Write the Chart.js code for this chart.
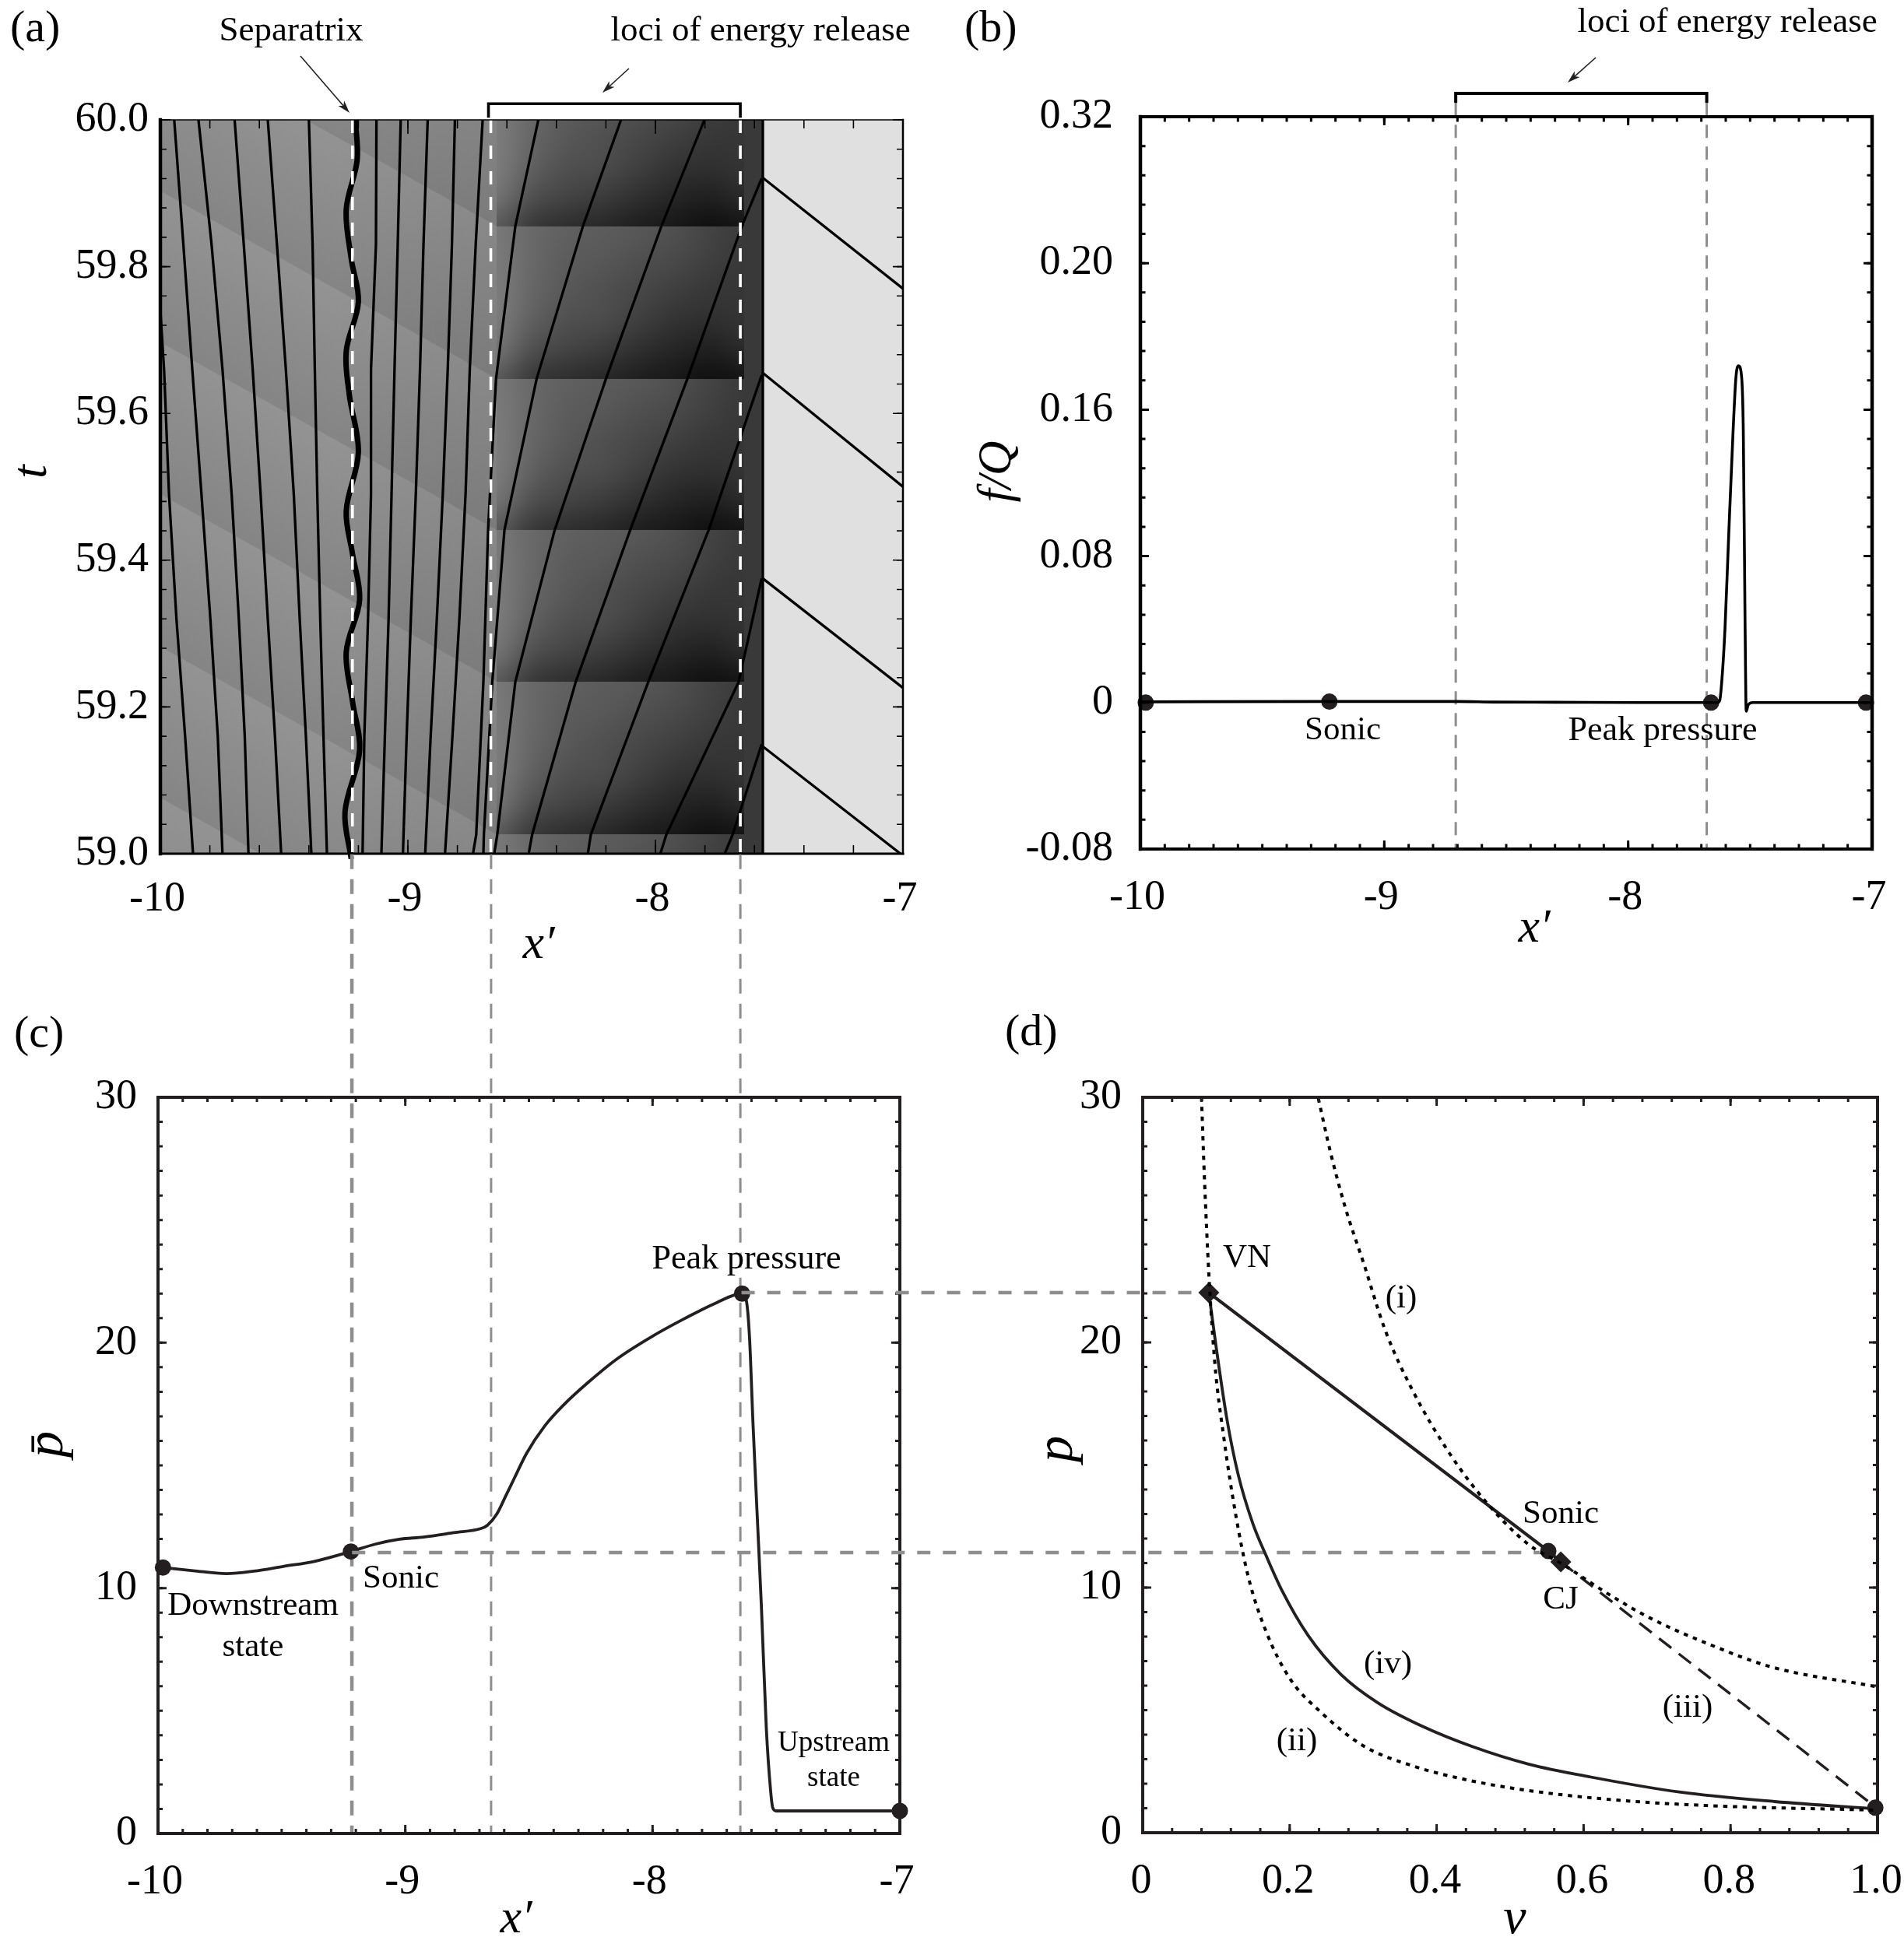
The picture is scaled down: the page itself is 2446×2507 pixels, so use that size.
<!DOCTYPE html>
<html><head><meta charset="utf-8">
<style>html,body{margin:0;padding:0;background:#fff}canvas{position:absolute;left:0;top:0}</style>
<script src="https://cdn.jsdelivr.net/npm/chart.js@4"></script>
</head><body>
<canvas id="pa" width="2446" height="2507"></canvas>
<canvas id="pb" width="2446" height="2507"></canvas>
<canvas id="pc" width="2446" height="2507"></canvas>
<canvas id="pd" width="2446" height="2507"></canvas>
<script>
// ---------- tick labels ----------
const xPrimeTicks=[-10,-9,-8,-7];
const xPrimeLabels=['-10','-9','-8','-7'];
const aTimeTicks=[59,59.2,59.4,59.6,59.8,60];
const aTimeLabels=['59.0','59.2','59.4','59.6','59.8','60.0'];
const bTicks=[-0.08,0,0.08,0.16,0.24,0.32];
const bLabels=['-0.08','0','0.08','0.16','0.20','0.32'];
const pTicks=[0,10,20,30];
const pLabels=['0','10','20','30'];
const vTicks=[0,0.2,0.4,0.6,0.8,1];
const vLabels=['0','0.2','0.4','0.6','0.8','1.0'];

// ---------- panel (a): particle paths ----------
const pathT=[60,59.83,59.66,59.49,59.32,59.16,59];
const pathB=[-9.944,-9.907,-9.871,-9.834,-9.798,-9.768,-9.749];
const pathC=[-9.846,-9.793,-9.749,-9.712,-9.683,-9.659,-9.644];
const pathD=[-9.70,-9.663,-9.627,-9.595,-9.566,-9.537,-9.512];
const pathE=[-9.566,-9.529,-9.493,-9.461,-9.437,-9.412,-9.39];
const pathF=[-9.40,-9.385,-9.376,-9.366,-9.354,-9.341,-9.327];
const pathG=[-9.127,-9.129,-9.149,-9.149,-9.161,-9.176,-9.183];
const pathH=[-9.029,-9.041,-9.054,-9.066,-9.078,-9.093,-9.107];
const pathI=[-8.92,-8.937,-8.951,-8.968,-8.988,-9.005,-9.02];
const pathJ=[-8.81,-8.822,-8.839,-8.859,-8.883,-8.908,-8.93];
const pathK=[-8.698,-8.726,-8.75,-8.767,-8.792,-8.82,-8.85];
const pathAT=[59.74,59.66,59.49,59.32,59.16,59];
const pathA=[-10,-9.985,-9.965,-9.935,-9.90,-9.868];
const rowT=[60,59.855,59.647,59.441,59.234,59.026,59];
const pathL=[-8.473,-8.566,-8.644,-8.676,-8.695,-8.724,-8.737];
const pathM=[-8.139,-8.293,-8.48,-8.61,-8.659,-8.693,-8.695];
const pathN=[-7.802,-7.976,-8.2,-8.407,-8.566,-8.639,-8.651];
const pathOT=[59.92,59.855,59.647,59.441,59.234,59.026,59];
const pathO=[-7.571,-7.651,-7.871,-8.102,-8.322,-8.498,-8.512];
const pathPT=[59.652,59.441,59.234,59.026,59];
const pathP=[-7.571,-7.785,-8.029,-8.261,-8.273];
const pathQT=[59.375,59.234,59.026,59];
const pathQ=[-7.571,-7.664,-7.956,-7.98];
const pathRT=[59.149,59.026,59];
const pathR=[-7.571,-7.688,-7.72];
const sepT=[60,59.945,59.878,59.811,59.752,59.685,59.626,59.547,59.467,59.409,59.346,59.275,59.208,59.141,59.057,58.993];
const sepX=[-9.212,-9.205,-9.249,-9.229,-9.2,-9.249,-9.237,-9.2,-9.249,-9.224,-9.195,-9.249,-9.224,-9.195,-9.254,-9.229];
const shockX=[-7.566,-7.566];
const shockT=[60,59];
const charX=[-7.566,-7];
const char1T=[59.921,59.77];
const char2T=[59.655,59.50];
const char3T=[59.375,59.226];
const char4T=[59.146,59.0];
const char4X=[-7.566,-7.01];
// panel (a): background shade
const bandLeftT=[60.315,60.11,59.903,59.697,59.49,59.282,59.076,58.87];
const bandRightT=[60.062,59.855,59.647,59.441,59.234,59.026,58.82,58.61];
const shadeGrid=[
 [0x78,0x68,0x60,0x5c,0x58,0x50,0x44,0x3a],
 [0x7a,0x68,0x5c,0x58,0x50,0x4a,0x40,0x38],
 [0x7c,0x66,0x58,0x50,0x48,0x40,0x38,0x36],
 [0x7c,0x60,0x50,0x4c,0x40,0x34,0x30,0x34],
 [0x74,0x50,0x44,0x3c,0x30,0x26,0x20,0x2a],
 [0x5a,0x38,0x2e,0x28,0x1e,0x18,0x10,0x14]];
const lociA=[-8.665,-7.657];
const sepLine=-9.224;

// ---------- panel (b) ----------
const fX=[-10,-9.22,-8.7,-8.55,-8.3,-7.96,-7.66,-7.635,-7.625,-7.615,-7.603,-7.588,-7.570,-7.558,-7.548,-7.535,-7.528,-7.521,-7.516,-7.508,-7.49,-7.02];
const fY=[0.0004,0.0006,0.0006,0.0003,0.0002,0,0,0,0.001,0.0138,0.0406,0.091,0.148,0.178,0.184,0.178,0.148,0.047,-0.0047,-0.0013,0,0];
const fDotX=[-9.978,-9.225,-7.66,-7.025];
const fDotY=[0,0.0005,0,0];
const lociB=[-8.707,-7.678];

// ---------- panel (c) ----------
const pbX=[-9.98,-9.858,-9.723,-9.613,-9.49,-9.367,-9.22,-9.122,-9.024,-8.926,-8.803,-8.693,-8.668,-8.631,-8.594,-8.558,-8.509,-8.435,-8.362,-8.263,-8.141,-8.006,-7.871,-7.748,-7.638,-7.621,-7.608,-7.594,-7.577,-7.56,-7.54,-7.523,-7.514,-7.5,-7.33,-7];
const pbY=[10.84,10.71,10.59,10.69,10.89,11.09,11.49,11.79,11.99,12.08,12.26,12.43,12.56,13.0,13.75,14.5,15.5,16.62,17.44,18.36,19.36,20.23,20.98,21.6,22.0,21.73,20.23,16.74,13.0,9.27,4.29,1.79,1.05,0.92,0.92,0.92];
const cDotX=[-9.98,-9.22,-7.638,-7];
const cDotY=[10.84,11.49,22.0,0.92];
const linkX=[-9.216,-8.653,-7.645];

// ---------- panel (d) ----------
const hugIV=[0.239,0.256,0.276,0.301,0.33,0.368,0.417,0.467,0.525,0.571,0.633,0.691,0.774,0.857,1];
const hugIP=[29.95,27.7,25.47,23.2,20.5,18,15.5,13.5,11.76,10.96,9.75,8.75,7.65,6.75,5.95];
const hugIIV=[0.08,0.084,0.09,0.098,0.11,0.127,0.144,0.168,0.2,0.243,0.3,0.368,0.442,0.525,0.65,0.774,1];
const hugIIP=[30,26.7,22.8,19.2,16.2,12.9,10.4,8.2,6.3,4.9,3.55,2.72,2.15,1.72,1.32,1.1,0.92];
const rayV=[0.09,0.552,0.569];
const rayP=[22.03,11.49,11.05];
const rayDashV=[0.569,1];
const rayDashP=[11.05,0.98];
const isenV=[0.09,0.1,0.115,0.13,0.15,0.168,0.19,0.225,0.27,0.32,0.38,0.45,0.525,0.61,0.73,0.86,1];
const isenP=[22.03,19.8,16.8,14.6,12.6,11.3,9.85,8.05,6.45,5.3,4.35,3.5,2.8,2.27,1.66,1.27,0.97];
const dDotV=[0.552,0.997];
const dDotP=[11.49,1.02];
const diaV=[0.09,0.569];
const diaP=[22.03,11.05];
const peakLink=[-0.546,0.09], peakLinkP=22.03;
const sonicLink=[-1.076,0.54], sonicLinkP=11.43;

// ---------- helpers ----------
const SERIF='"Liberation Serif"';
const INK='#231f20';
const GREY='#8e8e8e';
const YW=150, XH=110;
const pts=(xs,ys)=>xs.map((x,i)=>({x,y:ys[i]}));
const range=(a,b,s)=>{const o=[];const n=Math.round((b-a)/s);for(let i=0;i<=n;i++)o.push(a+i*s);return o;};

function txt(c,s,x,y,size,o={}){
  c.save();
  c.fillStyle=o.color||'#000';
  c.font=(o.italic?'italic ':'')+size+'px '+SERIF;
  c.textAlign=o.align||'center';
  c.textBaseline=o.base||'middle';
  c.translate(x,y);
  if(o.rot)c.rotate(o.rot);
  c.fillText(s,0,0);
  c.restore();
}
function arrow(c,x0,y0,x1,y1){
  const a=Math.atan2(y1-y0,x1-x0),L=17,w=0.3;
  c.save();c.strokeStyle='#222';c.fillStyle='#222';c.lineWidth=1.6;c.setLineDash([]);
  c.beginPath();c.moveTo(x0,y0);c.lineTo(x1-Math.cos(a)*L*0.7,y1-Math.sin(a)*L*0.7);c.stroke();
  c.beginPath();c.moveTo(x1,y1);
  c.lineTo(x1-L*Math.cos(a-w),y1-L*Math.sin(a-w));
  c.lineTo(x1-L*0.7*Math.cos(a),y1-L*0.7*Math.sin(a));
  c.lineTo(x1-L*Math.cos(a+w),y1-L*Math.sin(a+w));
  c.closePath();c.fill();c.restore();
}
function dashed(c,x0,y0,x1,y1,color,width,dash){
  c.save();c.strokeStyle=color;c.lineWidth=width;c.setLineDash(dash);c.lineCap='butt';
  c.beginPath();c.moveTo(x0,y0);c.lineTo(x1,y1);c.stroke();c.restore();
}
function frame(chart,f){
  const c=chart.ctx,{left:l,right:r,top:t,bottom:b}=chart.chartArea,X=chart.scales.x,Y=chart.scales.y;
  c.save();c.strokeStyle=f.color;c.lineCap='butt';
  c.lineWidth=f.tw;
  for(const v of f.xMinor){const p=X.getPixelForValue(v);
    c.beginPath();c.moveTo(p,t);c.lineTo(p,t+f.xm);c.moveTo(p,b);c.lineTo(p,b-f.xm);c.stroke();}
  for(const v of f.xMajor){const p=X.getPixelForValue(v);
    c.beginPath();c.moveTo(p,t);c.lineTo(p,t+f.xM);c.moveTo(p,b);c.lineTo(p,b-f.xM);c.stroke();}
  for(const v of f.yMinor){const p=Y.getPixelForValue(v);
    c.beginPath();c.moveTo(l,p);c.lineTo(l+f.ym,p);c.moveTo(r,p);c.lineTo(r-f.ym,p);c.stroke();}
  for(const v of f.yMajor){const p=Y.getPixelForValue(v);
    c.beginPath();c.moveTo(l,p);c.lineTo(l+f.yM,p);c.moveTo(r,p);c.lineTo(r-f.yM,p);c.stroke();}
  const s=(w,x0,y0,x1,y1)=>{c.lineWidth=w;c.lineCap='square';c.beginPath();c.moveTo(x0,y0);c.lineTo(x1,y1);c.stroke();};
  s(f.sides[0],l,t,l,b);s(f.sides[1],r,t,r,b);s(f.sides[2],l,t,r,t);s(f.sides[3],l,b,r,b);
  c.restore();
}
function axis(min,max,majors,labels,pad,offset){
  return {type:'linear',min,max,display:true,grid:{display:false},border:{display:false},
    afterBuildTicks:s=>{s.ticks=majors.map(v=>({value:v}));},
    afterFit:s=>{if(s.isHorizontal())s.height=XH;else s.width=YW;s.paddingLeft=s.paddingRight=s.paddingTop=s.paddingBottom=0;},
    ticks:{autoSkip:false,maxRotation:0,minRotation:0,padding:pad,color:'#000',labelOffset:offset||0,
      font:{family:SERIF,size:54},callback:(v,i)=>labels[i]}};
}
const line=(data,o={})=>Object.assign({data,borderColor:INK,borderWidth:3.5,pointRadius:0,fill:false,tension:0,borderCapStyle:'butt'},o);
const dots=(data,o={})=>Object.assign({data,showLine:false,pointRadius:10.5,pointBorderWidth:0,pointBackgroundColor:INK,backgroundColor:INK,borderColor:INK,clip:false},o);
function make(id,box,xAxis,yAxis,datasets,plugin){
  return new Chart(document.getElementById(id),{type:'line',data:{datasets},plugins:[plugin],
    options:{responsive:false,animation:false,devicePixelRatio:1,events:[],
      layout:{padding:{left:box.l-YW,top:box.t,right:2446-box.r,bottom:2507-box.b-XH}},
      plugins:{legend:{display:false},tooltip:{enabled:false},title:{display:false}},
      scales:{x:xAxis,y:yAxis}}});
}

// ---------- panel (a) ----------
function tileCanvas(){
  const rows=shadeGrid.length,cols=shadeGrid[0].length;
  const cv=document.createElement('canvas');cv.width=cols;cv.height=rows;
  const g=cv.getContext('2d'),im=g.createImageData(cols,rows);
  shadeGrid.forEach((r,j)=>r.forEach((v,i)=>{const k=4*(j*cols+i);im.data[k]=im.data[k+1]=im.data[k+2]=v;im.data[k+3]=255;}));
  g.putImageData(im,0,0);return cv;
}
const BOXA={l:206,r:1160,t:154,b:1097};
const PATH={borderColor:'#000',borderWidth:3.3};
make('pa',BOXA,axis(-10,-7,xPrimeTicks,xPrimeLabels,18,-4),axis(59,60,aTimeTicks,aTimeLabels,7),[
  ...[pathB,pathC,pathD,pathE,pathF,pathG,pathH,pathI,pathJ,pathK].map(a=>line(pts(a,pathT),PATH)),
  line(pts(pathA,pathAT),PATH),
  ...[pathL,pathM,pathN].map(a=>line(pts(a,rowT),PATH)),
  line(pts(pathO,pathOT),PATH),
  line(pts(pathP,pathPT),PATH),
  line(pts(pathQ,pathQT),PATH),
  line(pts(pathR,pathRT),PATH),
  line(pts(sepX,sepT),{borderColor:'#000',borderWidth:7,clip:false,tension:0.35}),
  line(pts(shockX,shockT),PATH),
  line(pts(charX,char1T),PATH),
  line(pts(charX,char2T),PATH),
  line(pts(charX,char3T),PATH),
  line(pts(char4X,char4T),PATH),
],{id:'a',
  beforeDatasetsDraw(ch){
    const c=ch.ctx,X=ch.scales.x,Y=ch.scales.y,A=ch.chartArea;
    const px=v=>X.getPixelForValue(v),py=v=>Y.getPixelForValue(v);
    const x0=px(-10),x1=px(-8.64),xs=px(-7.566),xe=px(-7),xt=px(-7.64);
    c.save();c.beginPath();c.rect(A.left,A.top,A.right-A.left,A.bottom-A.top);c.clip();
    c.fillStyle='#8a8a8a';c.fillRect(x0,A.top,x1-x0,A.bottom-A.top);
    for(let i=0;i<bandLeftT.length-1;i++){
      const a0=py(bandLeftT[i]),a1=py(bandRightT[i]),b0=py(bandLeftT[i+1]),b1=py(bandRightT[i+1]);
      const s=(a1-a0)/(x1-x0),h=b0-a0,n=1+s*s,mx=(x0+x1)/2,my=(a0+a1)/2;
      const g=c.createLinearGradient(mx,my,mx-s*h/n,my+h/n);
      g.addColorStop(0,'#939393');g.addColorStop(1,'#858585');
      c.fillStyle=g;c.beginPath();c.moveTo(x0,a0);c.lineTo(x1,a1);c.lineTo(x1,b1);c.lineTo(x0,b0);c.closePath();c.fill();
    }
    const gx=c.createLinearGradient(px(-9.3),0,x1,0);
    gx.addColorStop(0,'rgba(0,0,0,0)');gx.addColorStop(1,'rgba(0,0,0,0.08)');
    c.fillStyle=gx;c.fillRect(px(-9.3),A.top,x1-px(-9.3),A.bottom-A.top);
    c.fillStyle='#393939';c.fillRect(xt-1,A.top,xs-xt+1,A.bottom-A.top);
    const tile=tileCanvas();c.imageSmoothingEnabled=true;c.imageSmoothingQuality='high';
    for(let i=0;i<bandRightT.length-1;i++){
      const yA=py(bandRightT[i]),yB=py(bandRightT[i+1]);
      c.drawImage(tile,0.5,0.5,tile.width-1,tile.height-1,x1,yA,xt-x1,yB-yA);
    }
    c.fillStyle='#e0e0e0';c.fillRect(xs,A.top,xe-xs,A.bottom-A.top);
    c.restore();
  },
  afterDatasetsDraw(ch){
    const c=ch.ctx,X=ch.scales.x,A=ch.chartArea;
    dashed(c,X.getPixelForValue(sepLine),A.top,X.getPixelForValue(sepLine),A.bottom,'#fff',3.6,[17,16]);
    for(const v of lociA)dashed(c,X.getPixelForValue(v),A.top,X.getPixelForValue(v),A.bottom,'#fff',3.6,[17,16]);
  },
  afterDraw(ch){
    const c=ch.ctx,X=ch.scales.x,Y=ch.scales.y;
    frame(ch,{color:'#000',tw:1.6,xm:11,xM:18,ym:8,yM:13,sides:[4.5,2.5,1.6,3],
      xMinor:range(-10,-7,0.2),xMajor:xPrimeTicks,yMinor:range(59,60,0.04),yMajor:aTimeTicks});
    const bx0=X.getPixelForValue(lociA[0])-3,bx1=X.getPixelForValue(lociA[1]),by=Y.getPixelForValue(60.022),bd=Y.getPixelForValue(60.003);
    c.save();c.strokeStyle='#000';c.lineWidth=3.6;c.lineJoin='miter';c.beginPath();c.moveTo(bx0,bd);c.lineTo(bx0,by);c.lineTo(bx1,by);c.lineTo(bx1,bd);c.stroke();c.restore();
    txt(c,'(a)',13,53,58,{align:'left',base:'alphabetic'});
    txt(c,'Separatrix',374,40,45);
    txt(c,'loci of energy release',977,40,45);
    arrow(c,386,72,449,145);
    arrow(c,808,88,774,119);
    txt(c,'t',42,606,64,{italic:true,rot:-Math.PI/2});
    txt(c,'x\u2032',692,1215,62,{italic:true});
  }
});

// ---------- panel (b) ----------
const BOXB={l:1465,r:2405,t:150,b:1091};
make('pb',BOXB,axis(-10,-7,xPrimeTicks,xPrimeLabels,22,-4),axis(-0.08,0.32,bTicks,bLabels,27),[
  line(pts(fX,fY),{borderColor:'#000',borderWidth:3.6,cubicInterpolationMode:'monotone'}),
  dots(pts(fDotX,fDotY)),
],{id:'b',
  beforeDatasetsDraw(ch){
    const c=ch.ctx,X=ch.scales.x,Y=ch.scales.y;
    for(const v of lociB)dashed(c,X.getPixelForValue(v),Y.getPixelForValue(0.3275),X.getPixelForValue(v),ch.chartArea.bottom,GREY,3,[17,11]);
  },
  afterDraw(ch){
    const c=ch.ctx,X=ch.scales.x,Y=ch.scales.y;
    frame(ch,{color:'#000',tw:3,xm:6.5,xM:11,ym:6.5,yM:11,sides:[4.5,4.5,4,4],
      xMinor:range(-10,-7,0.1),xMajor:xPrimeTicks,yMinor:range(-0.08,0.32,0.016),yMajor:bTicks});
    const bx0=X.getPixelForValue(lociB[0]),bx1=X.getPixelForValue(lociB[1]),by=Y.getPixelForValue(0.3328),bd=Y.getPixelForValue(0.3275);
    c.save();c.strokeStyle='#000';c.lineWidth=4;c.beginPath();c.moveTo(bx0,bd);c.lineTo(bx0,by);c.lineTo(bx1,by);c.lineTo(bx1,bd);c.stroke();c.restore();
    txt(c,'(b)',1239,53,58,{align:'left',base:'alphabetic'});
    txt(c,'loci of energy release',2219,29,45);
    arrow(c,2050,74,2014,106);
    txt(c,'Sonic',1725,939,43);
    txt(c,'Peak pressure',2136,939,44);
    txt(c,'f/Q',1282,606,62,{italic:true,rot:-Math.PI/2});
    txt(c,'x\u2032',1971,1194,62,{italic:true});
  }
});

// ---------- panel (c) ----------
const BOXC={l:203,r:1156,t:1410,b:2356};
make('pc',BOXC,axis(-10,-7,xPrimeTicks,xPrimeLabels,22,-4),axis(0,30,pTicks,pLabels,19),[
  line(pts(pbX,pbY),{borderWidth:3.8,cubicInterpolationMode:'monotone'}),
  dots(pts(cDotX,cDotY)),
],{id:'c',
  beforeDatasetsDraw(ch){
    const c=ch.ctx,X=ch.scales.x,Y=ch.scales.y;
    const yTop=Y.getPixelForValue(39.9);
    linkX.forEach((v,i)=>{const p=X.getPixelForValue(v);
      dashed(c,p,yTop,p,ch.chartArea.bottom,GREY,i===0?4.5:3,[19,13]);});
  },
  afterDraw(ch){
    const c=ch.ctx;
    frame(ch,{color:INK,tw:3,xm:6,xM:11,ym:6,yM:11,sides:[4,4,4,4],
      xMinor:range(-10,-7,0.1),xMajor:xPrimeTicks,yMinor:range(0,30,1),yMajor:pTicks});
    txt(c,'(c)',18,1345,58,{align:'left',base:'alphabetic'});
    txt(c,'Peak pressure',959,1618,44);
    txt(c,'Sonic',515,2029,43);
    txt(c,'Downstream',325,2064,43);
    txt(c,'state',325,2117,43);
    txt(c,'Upstream',1071,2240,37);
    txt(c,'state',1071,2285,37);
    txt(c,'p\u0304',62,1856,68,{italic:true,rot:-Math.PI/2});
    txt(c,'x\u2032',663,2467,62,{italic:true});
  }
});

// ---------- panel (d) ----------
const BOXD={l:1468,r:2412,t:1410,b:2355};
make('pd',BOXD,axis(0,1,vTicks,vLabels,22,-2),axis(0,30,pTicks,pLabels,19),[
  line(pts(hugIV,hugIP),{borderColor:'#000',borderWidth:4,borderDash:[5.5,7],cubicInterpolationMode:'monotone'}),
  line(pts(hugIIV,hugIIP),{borderColor:'#000',borderWidth:4,borderDash:[5.5,7],cubicInterpolationMode:'monotone'}),
  line(pts(rayDashV,rayDashP),{borderWidth:3.4,borderDash:[20,12]}),
  line(pts(rayV,rayP),{borderWidth:4.2}),
  line(pts(isenV,isenP),{borderWidth:3.8,cubicInterpolationMode:'monotone'}),
  dots(pts(dDotV,dDotP)),
  dots(pts(diaV,diaP),{pointStyle:'rectRot',pointRadius:13.5}),
],{id:'d',
  beforeDatasetsDraw(ch){
    const c=ch.ctx,X=ch.scales.x,Y=ch.scales.y;
    dashed(c,X.getPixelForValue(peakLink[0]),Y.getPixelForValue(peakLinkP),X.getPixelForValue(peakLink[1]),Y.getPixelForValue(peakLinkP),GREY,4.5,[17,16]);
    dashed(c,X.getPixelForValue(sonicLink[0]),Y.getPixelForValue(sonicLinkP),X.getPixelForValue(sonicLink[1]),Y.getPixelForValue(sonicLinkP),GREY,4.5,[17,16]);
  },
  afterDraw(ch){
    const c=ch.ctx;
    frame(ch,{color:INK,tw:3,xm:6,xM:11,ym:6,yM:11,sides:[4,4,4,4],
      xMinor:range(0,1,0.04),xMajor:vTicks,yMinor:range(0,30,1),yMajor:pTicks});
    txt(c,'(d)',1291,1343,58,{align:'left',base:'alphabetic'});
    txt(c,'VN',1602,1617,43);
    txt(c,'(i)',1800,1669,43);
    txt(c,'Sonic',2005,1946,43);
    txt(c,'CJ',2005,2056,43);
    txt(c,'(iv)',1783,2139,43);
    txt(c,'(iii)',2168,2195,43);
    txt(c,'(ii)',1666,2238,43);
    txt(c,'p',1359,1862,68,{italic:true,rot:-Math.PI/2});
    txt(c,'\u03BD',1946,2467,66,{italic:true});
  }
});
</script>
</body></html>
